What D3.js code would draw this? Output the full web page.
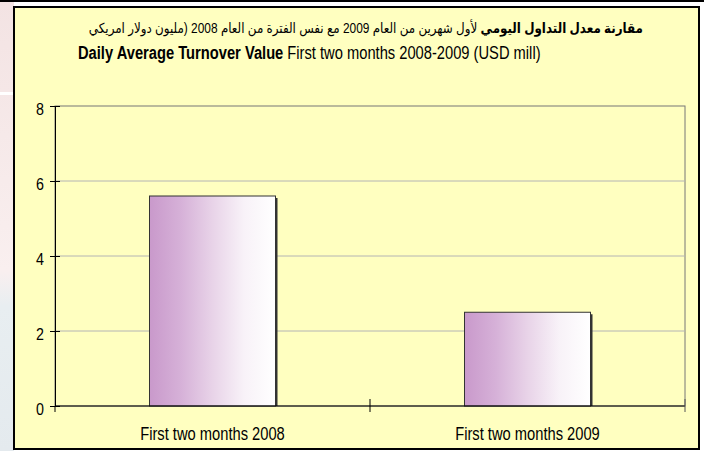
<!DOCTYPE html>
<html>
<head>
<meta charset="utf-8">
<script src="https://cdn.jsdelivr.net/npm/d3@7"></script>
<style>
  body { margin: 0; background: #fff; }
  svg { display: block; font-family: "Liberation Sans", Arial, "DejaVu Sans", sans-serif; }
</style>
</head>
<body>
<div id="container"></div>
<script>
/* CONSTANTS AND GLOBALS */
const width = 704,
  height = 451,
  margin = { top: 106, bottom: 45, left: 55, right: 19 }
const squeeze = 0.84 // the source text is horizontally narrow

/* DATA */
const categories = ["First two months 2008", "First two months 2009"]
const values = [5.6, 2.5]
const yTicks = [0, 2, 4, 6, 8]
const titleArBold = "مقارنة معدل التداول اليومي"
const titleArRest = " لأول شهرين من العام 2009 مع نفس الفترة من العام 2008 (مليون دولار امريكي"
const titleEnBold = "Daily Average Turnover Value"
const titleEnRest = " First two months 2008-2009 (USD mill)"

const svg = d3.select("#container")
  .append("svg")
  .attr("width", width)
  .attr("height", height)

// page background behind the chart
const defs = svg.append("defs")
const bg = defs.append("linearGradient").attr("id", "pageBg")
  .attr("x1", 0).attr("y1", 0).attr("x2", 0).attr("y2", 1)
bg.append("stop").attr("offset", "0%").attr("stop-color", "#f3e3e3")
bg.append("stop").attr("offset", "60%").attr("stop-color", "#f9efef")
bg.append("stop").attr("offset", "68%").attr("stop-color", "#e8eef1")
bg.append("stop").attr("offset", "100%").attr("stop-color", "#e4eaee")
svg.append("rect").attr("x", 0).attr("y", 0).attr("width", 14).attr("height", height).attr("fill", "url(#pageBg)")
svg.append("rect").attr("x", 0).attr("y", 92).attr("width", 14).attr("height", 3).attr("fill", "#fff")
svg.append("rect").attr("x", 0).attr("y", 0).attr("width", width).attr("height", 2).attr("fill", "#000")

// chart frame
svg.append("rect")
  .attr("x", 14).attr("y", 7)
  .attr("width", 685).attr("height", 442)
  .attr("fill", "#ffffc0")
  .attr("stroke", "#000")
  .attr("stroke-width", 2)

// bar gradient
const grad = defs.append("linearGradient").attr("id", "barGrad")
  .attr("x1", 0).attr("y1", 0).attr("x2", 1).attr("y2", 0)
grad.append("stop").attr("offset", "0%").attr("stop-color", "#c999cb")
grad.append("stop").attr("offset", "25%").attr("stop-color", "#d6b1d8")
grad.append("stop").attr("offset", "50%").attr("stop-color", "#e8d3e8")
grad.append("stop").attr("offset", "75%").attr("stop-color", "#f8f2f8")
grad.append("stop").attr("offset", "100%").attr("stop-color", "#ffffff")

/* SCALES */
const xScale = d3.scaleBand()
  .domain(categories)
  .range([margin.left, width - margin.right])

const yScale = d3.scaleLinear()
  .domain([0, 8])
  .range([height - margin.bottom, margin.top])

const plotW = xScale.range()[1] - xScale.range()[0]

// plot area outline + gridlines
svg.append("rect")
  .attr("x", margin.left).attr("y", yScale(8))
  .attr("width", plotW).attr("height", yScale(0) - yScale(8))
  .attr("fill", "none")
  .attr("stroke", "#777")

svg.append("g")
  .selectAll("line")
  .data(yTicks.filter(d => d > 0 && d < 8))
  .join("line")
  .attr("x1", margin.left).attr("x2", margin.left + plotW)
  .attr("y1", d => yScale(d)).attr("y2", d => yScale(d))
  .attr("stroke", "#b4b4b4")

/* BARS */
const barW = xScale.bandwidth() * 0.4
const barX = d => xScale(d) + (xScale.bandwidth() - barW) / 2

svg.append("g")
  .selectAll("rect")
  .data(categories)
  .join("rect")
  .attr("x", d => barX(d) + 2)
  .attr("y", (d, i) => yScale(values[i]) + 2)
  .attr("width", barW)
  .attr("height", (d, i) => yScale(0) - yScale(values[i]) - 2)
  .attr("fill", "#333")

svg.append("g")
  .selectAll("rect")
  .data(categories)
  .join("rect")
  .attr("x", d => barX(d))
  .attr("y", (d, i) => yScale(values[i]))
  .attr("width", barW)
  .attr("height", (d, i) => yScale(0) - yScale(values[i]))
  .attr("fill", "url(#barGrad)")
  .attr("stroke", "#333")
  .attr("stroke-width", 1)

/* AXES */
const yAxis = d3.axisLeft(yScale)
  .tickValues(yTicks)
  .tickSizeInner(5)
  .tickSizeOuter(0)
  .tickPadding(6)

const gy = svg.append("g")
  .attr("transform", `translate(${margin.left},0)`)
  .call(yAxis)
gy.select(".domain").attr("stroke", "#000")
gy.selectAll(".tick line").clone().attr("x2", 5)
gy.selectAll(".tick text")
  .attr("transform", `scale(${squeeze},1)`)
  .attr("x", -11 / squeeze)
  .attr("dy", "0.5em")
  .attr("font-size", 17)
  .attr("font-family", "Liberation Sans, Arial, sans-serif")
  .attr("fill", "#000")

// x axis: category dividers crossing the axis
const xEdges = [...categories.map(d => xScale(d)), width - margin.right]
svg.append("line")
  .attr("x1", margin.left).attr("x2", width - margin.right)
  .attr("y1", yScale(0)).attr("y2", yScale(0))
  .attr("stroke", "#000")
svg.append("g")
  .selectAll("line")
  .data(xEdges)
  .join("line")
  .attr("x1", d => d).attr("x2", d => d)
  .attr("y1", (d, i) => i === 0 ? yScale(0) : yScale(0) - 7)
  .attr("y2", yScale(0) + 6)
  .attr("stroke", (d, i) => i === 2 ? "#555" : "#000")

svg.append("g")
  .selectAll("text")
  .data(categories)
  .join("text")
  .attr("transform", d => `translate(${xScale(d) + xScale.bandwidth() / 2},440) scale(${squeeze},1)`)
  .attr("text-anchor", "middle")
  .attr("font-size", 17.5)
  .attr("fill", "#000")
  .text(d => d)

/* TITLE */
const t1 = svg.append("text")
  .attr("transform", `translate(643,33) scale(0.85,1)`)
  .attr("direction", "rtl")
  .attr("text-anchor", "start")
  .attr("font-size", 14)
  .attr("fill", "#000")
t1.append("tspan").attr("font-weight", "bold").text(titleArBold)
t1.append("tspan").text(titleArRest)

const t2 = svg.append("text")
  .attr("transform", `translate(78,59) scale(${squeeze},1)`)
  .attr("font-size", 17.5)
  .attr("fill", "#000")
t2.append("tspan").attr("font-weight", "bold").text(titleEnBold)
t2.append("tspan").text(titleEnRest)
</script>
</body>
</html>
